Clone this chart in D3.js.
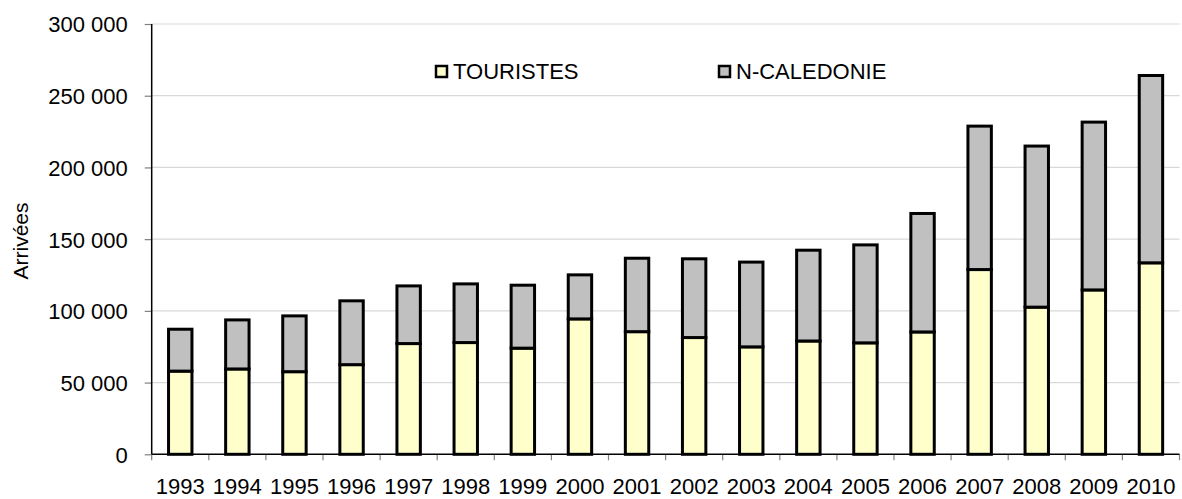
<!DOCTYPE html>
<html>
<head>
<meta charset="utf-8">
<script src="https://cdn.jsdelivr.net/npm/d3@7"></script>
<style>
  body { margin: 0; background: #fff; }
  text { font-family: "Liberation Sans", Arial, sans-serif; fill: #000; }
</style>
</head>
<body>
<svg id="chart" width="1182" height="499"></svg>
<script>
// data
var years = ["1993", "1994", "1995", "1996", "1997", "1998", "1999", "2000", "2001",
             "2002", "2003", "2004", "2005", "2006", "2007", "2008", "2009", "2010"];
var touristes = [58000, 59500, 57600, 62500, 77200, 77900, 74000, 94400, 85500,
                 81400, 74900, 79000, 77700, 85300, 128800, 102600, 114600, 133500];
var caledonie = [29200, 34200, 38900, 44500, 40200, 40900, 43900, 30700, 51200,
                 54900, 59100, 63300, 68300, 82600, 100000, 112300, 117000, 130600];
var yTicks = [0, 50000, 100000, 150000, 200000, 250000, 300000];
var seriesNames = ["TOURISTES", "N-CALEDONIE"];
var seriesColors = ["#FFFFCC", "#C0C0C0"];

var svg = d3.select("#chart"),
    plotLeft = 151.7,
    plotRight = 1179.5,
    plotTop = 24,
    plotBottom = 454.3;

var rows = years.map(function(y, i) {
    return { year: y, TOURISTES: touristes[i], "N-CALEDONIE": caledonie[i] };
});
var stacked = d3.stack().keys(seriesNames)(rows);

var x = d3.scaleBand().domain(years).range([plotLeft, plotRight]).paddingInner(0.59).paddingOuter(0.295);
var xCat = d3.scaleBand().domain(years).range([plotLeft, plotRight]);
var y = d3.scaleLinear().domain([0, 300000]).range([plotBottom, plotTop]);

var fmt = function(d) { return d3.format(",")(d).replace(/,/g, " "); };

// grid lines
svg.append("g")
    .selectAll("line")
    .data(yTicks.slice(1))
    .enter().append("line")
    .attr("x1", plotLeft).attr("x2", plotRight)
    .attr("y1", function(d) { return y(d); })
    .attr("y2", function(d) { return y(d); })
    .attr("stroke", "#d9d9d9")
    .attr("stroke-width", 1.2);

// y axis
var yAxis = svg.append("g")
    .attr("transform", "translate(" + plotLeft + ",0)")
    .call(d3.axisLeft(y).tickValues(yTicks).tickFormat(fmt).tickSize(7).tickPadding(17));
yAxis.select(".domain").remove();
yAxis.selectAll("line").attr("stroke", "#808080").attr("stroke-width", 1.2);
yAxis.selectAll("text").style("font-size", "22px").attr("dy", "0.36em")
    .style("font-family", "'Liberation Sans', Arial, sans-serif");

// x axis ticks at band edges
var xEdges = years.map(function(d) { return xCat(d); }).concat([plotRight]);
svg.append("g")
    .selectAll("line")
    .data(xEdges)
    .enter().append("line")
    .attr("x1", function(d) { return d; }).attr("x2", function(d) { return d; })
    .attr("y1", plotBottom).attr("y2", plotBottom + 6)
    .attr("stroke", "#808080")
    .attr("stroke-width", 1.2);

svg.append("g")
    .selectAll("text")
    .data(years)
    .enter().append("text")
    .attr("x", function(d) { return xCat(d) + xCat.bandwidth() / 2; })
    .attr("y", 494)
    .attr("text-anchor", "middle")
    .style("font-size", "22px")
    .text(function(d) { return d; });

// bars
svg.append("g")
    .selectAll("g")
    .data(stacked)
    .enter().append("g")
    .attr("fill", function(d, i) { return seriesColors[i]; })
    .selectAll("rect")
    .data(function(d) { return d; })
    .enter().append("rect")
    .attr("x", function(d) { return x(d.data.year); })
    .attr("y", function(d) { return y(d[1]); })
    .attr("width", x.bandwidth())
    .attr("height", function(d) { return y(d[0]) - y(d[1]); })
    .attr("stroke", "#000")
    .attr("stroke-width", 3);

// axis lines
svg.append("line")
    .attr("x1", plotLeft).attr("x2", plotLeft)
    .attr("y1", plotTop).attr("y2", plotBottom)
    .attr("stroke", "#000").attr("stroke-width", 1.5);
svg.append("line")
    .attr("x1", plotLeft).attr("x2", plotRight)
    .attr("y1", plotBottom).attr("y2", plotBottom)
    .attr("stroke", "#000").attr("stroke-width", 1.5);

// y title
svg.append("text")
    .attr("transform", "translate(28,241) rotate(-90)")
    .attr("text-anchor", "middle")
    .style("font-size", "21px")
    .text("Arrivées");

// legend
var legendX = [436, 719];
var legend = svg.append("g")
    .selectAll("g")
    .data(seriesNames)
    .enter().append("g")
    .attr("transform", function(d, i) { return "translate(" + legendX[i] + ",66)"; });
legend.append("rect")
    .attr("width", 11).attr("height", 11)
    .attr("fill", function(d, i) { return seriesColors[i]; })
    .attr("stroke", "#000").attr("stroke-width", 2.5);
legend.append("text")
    .attr("x", 17).attr("y", 13)
    .style("font-size", "22px")
    .text(function(d) { return d; });
</script>
</body>
</html>
